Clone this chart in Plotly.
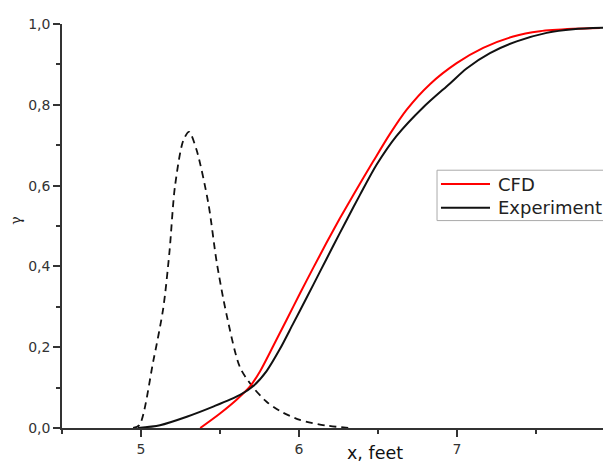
import plotly.graph_objects as go

# Experiment (black solid)
exp_x = [4.98, 5.12, 5.29, 5.457, 5.627, 5.711, 5.795, 5.880, 5.964, 6.049, 6.133, 6.217, 6.302,
         6.386, 6.492, 6.618, 6.787, 6.956, 7.061, 7.209, 7.378, 7.568, 7.736, 7.97]
exp_y = [0.0, 0.007, 0.028, 0.053, 0.082, 0.104, 0.141, 0.196, 0.259, 0.323, 0.387, 0.451, 0.515,
         0.577, 0.652, 0.723, 0.794, 0.853, 0.890, 0.928, 0.957, 0.978, 0.987, 0.991]

# CFD (red solid)
cfd_x = [5.375, 5.5, 5.605, 5.690, 5.753, 5.837, 5.922, 6.006, 6.091, 6.175, 6.259, 6.344,
         6.470, 6.576, 6.682, 6.829, 6.998, 7.166, 7.356, 7.525, 7.736, 7.905]
cfd_y = [0.0, 0.036, 0.070, 0.103, 0.140, 0.203, 0.268, 0.333, 0.397, 0.459, 0.519, 0.577,
         0.660, 0.728, 0.788, 0.851, 0.903, 0.941, 0.969, 0.982, 0.988, 0.990]

# Distribution (black dashed)
pdf_x = [4.95, 4.99, 5.078, 5.141, 5.18, 5.215, 5.268, 5.304, 5.352, 5.426, 5.479, 5.542,
         5.627, 5.711, 5.795, 5.880, 6.006, 6.175, 6.323]
pdf_y = [0.0, 0.007, 0.166, 0.297, 0.435, 0.598, 0.712, 0.733, 0.688, 0.557, 0.411, 0.280,
         0.150, 0.100, 0.065, 0.042, 0.020, 0.006, 0.0]

x_ticks = [5, 6, 7]
y_ticks = [0.0, 0.2, 0.4, 0.6, 0.8, 1.0]
y_labels = ["0,0", "0,2", "0,4", "0,6", "0,8", "1,0"]
legend_names = ["CFD", "Experiment"]
legend_colors = ["#ff0000", "#111111"]

fig = go.Figure()
fig.add_trace(go.Scatter(x=pdf_x, y=pdf_y, mode="lines", showlegend=False,
                         line=dict(color="#111111", width=1.8, dash="7px,5px", shape="spline",
                                   smoothing=0.8)))
fig.add_trace(go.Scatter(x=cfd_x, y=cfd_y, mode="lines", name=legend_names[0], showlegend=False,
                         line=dict(color=legend_colors[0], width=2, shape="spline", smoothing=0.8)))
fig.add_trace(go.Scatter(x=exp_x, y=exp_y, mode="lines", name=legend_names[1], showlegend=False,
                         line=dict(color=legend_colors[1], width=2, shape="spline", smoothing=0.8)))

FONT = "DejaVu Sans, Verdana, sans-serif"
axis_font = dict(family=FONT, size=14, color="#333333")

# manual legend (paper coordinates)
shapes = [dict(type="rect", xref="paper", yref="paper", x0=0.6831, x1=0.9891, y0=0.5134, y1=0.6381,
               line=dict(color="#aaaaaa", width=1), fillcolor="white", layer="above")]
annotations = []
for i, (nm, col) in enumerate(zip(legend_names, legend_colors)):
    yy = 0.6039 - i * 0.0587
    shapes.append(dict(type="line", xref="paper", yref="paper", x0=0.6903, x1=0.7796, y0=yy, y1=yy,
                       line=dict(color=col, width=2), layer="above"))
    annotations.append(dict(text=nm, xref="paper", yref="paper", x=0.7905, y=yy,
                            xanchor="left", yanchor="middle", showarrow=False,
                            font=dict(family=FONT, size=18, color="#222222")))

annotations += [
    dict(text="x, feet", xref="paper", yref="paper", x=0.570, y=0, yshift=-25,
         xanchor="center", yanchor="middle", showarrow=False,
         font=dict(family=FONT, size=17.5, color="#111111")),
    dict(text="γ", xref="paper", yref="paper", x=-0.084, y=0.513,
         xanchor="center", yanchor="middle", showarrow=False, textangle=-90,
         font=dict(family="DejaVu Serif", size=14, color="#222222")),
    dict(text="8", xref="paper", yref="paper", x=(8 - 4.5) / 3.475, y=0, yshift=-20,
         xanchor="center", yanchor="middle", showarrow=False, font=axis_font),
]

fig.update_layout(
    width=611, height=464,
    # page body has an 8px margin; compensate so plot area sits at 62..611 x 19..428
    margin=dict(l=54, r=8, t=11, b=44),
    paper_bgcolor="white", plot_bgcolor="white",
    font=axis_font,
    showlegend=False,
    xaxis=dict(range=[4.5, 7.975], showgrid=False, zeroline=False,
               showline=True, linecolor="#333333", linewidth=1.5,
               tickvals=x_ticks, ticks="outside", ticklen=7, tickwidth=1.5, tickcolor="#333333",
               minor=dict(dtick=0.5, tick0=4.5, ticks="outside", ticklen=4, tickwidth=1.5,
                          tickcolor="#333333"),
               tickfont=axis_font),
    yaxis=dict(range=[0, 1.0], showgrid=False, zeroline=False,
               showline=True, linecolor="#333333", linewidth=1.5,
               tickvals=y_ticks, ticktext=y_labels, ticks="outside", ticklen=7, tickwidth=1.5,
               tickcolor="#333333",
               minor=dict(dtick=0.1, ticks="outside", ticklen=4, tickwidth=1.5, tickcolor="#333333"),
               tickfont=axis_font),
    shapes=shapes,
    annotations=annotations,
)

fig.write_html("out.html")
